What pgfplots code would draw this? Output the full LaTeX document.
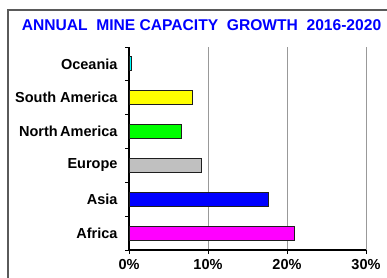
\documentclass[border=0pt]{standalone}
\usepackage{fontspec}
\setmainfont{Liberation Sans}
\usepackage{pgfplots}
\pgfplotsset{compat=1.18}
\definecolor{frame}{RGB}{90,90,90}
\definecolor{bedge}{RGB}{30,30,30}
\definecolor{mag}{RGB}{255,0,255}
\definecolor{cy}{RGB}{0,255,255}
\definecolor{grn}{RGB}{0,255,0}
\definecolor{yel}{RGB}{255,255,0}
\definecolor{blu}{RGB}{0,0,255}
\definecolor{gry}{RGB}{192,192,192}
\begin{document}
\begin{tikzpicture}
\useasboundingbox (0pt,0pt) rectangle (387pt,277pt);
\draw[frame, line width=1.5pt] (8pt,267pt) rectangle (420pt,-30pt);
\node[text=blu, font=\bfseries\fontsize{15.6}{18}\selectfont, inner sep=0pt] at (201.5pt,251.5pt) {ANNUAL\ \ MINE CAPACITY\ \ GROWTH\ \ 2016-2020};
\begin{axis}[
  at={(129pt,27pt)}, anchor=south west, scale only axis,
  width=237pt, height=203pt,
  xbar, bar width=14pt, bar shift=0pt,
  xmin=0, xmax=30, ymin=-0.5, ymax=5.5,
  axis x line*=bottom, axis y line*=left,
  axis line style={line width=1.8pt, black},
  xtick={0,10,20,30}, xticklabels={0\%,10\%,20\%,30\%},
  xtick align=outside, ytick align=outside,
  major tick length=4pt,
  tick style={black, line width=1pt},
  ytick={-0.5,0.5,...,5.5}, yticklabels={},
  extra y ticks={0,1,2,3,4,5},
  extra y tick labels={Africa,Asia,Europe,North\,America,South America,Oceania},
  extra y tick style={major tick length=0pt, yticklabel style={xshift=-8pt}},
  xmajorgrids, major grid style={gray!80, line width=0.8pt},
  ticklabel style={font=\bfseries\fontsize{14.5}{17}\selectfont},
  xticklabel style={yshift=-2pt},
  clip=false,
  every axis plot/.append style={draw=bedge, line width=1pt},
]
\addplot[fill=mag] coordinates {(20.9,0)};
\addplot[fill=blu] coordinates {(17.7,1)};
\addplot[fill=gry] coordinates {(9.2,2)};
\addplot[fill=grn] coordinates {(6.7,3)};
\addplot[fill=yel] coordinates {(8.0,4)};
\addplot[fill=cy] coordinates {(0.3,5)};
\end{axis}
\end{tikzpicture}
\end{document}
